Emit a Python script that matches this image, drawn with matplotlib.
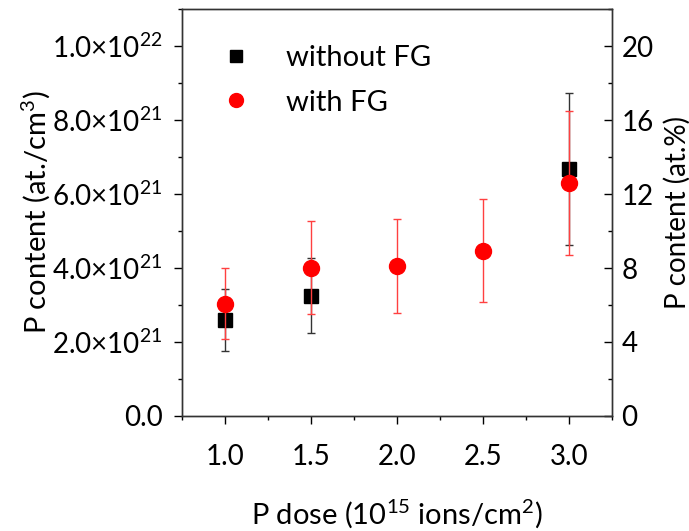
"""P content vs P dose, with and without FG."""
import numpy as np
import matplotlib
matplotlib.use('Agg')
import matplotlib.pyplot as plt
from matplotlib.lines import Line2D
from matplotlib.ticker import MultipleLocator, FuncFormatter

plt.rcParams['font.family'] = ['Lato', 'DejaVu Sans']
plt.rcParams['mathtext.default'] = 'regular'
plt.rcParams['mathtext.fontset'] = 'custom'
plt.rcParams['mathtext.rm'] = 'Lato'

# data (at./cm3)
dose_wo = [1.0, 1.5, 3.0]
p_wo = [2.6e21, 3.25e21, 6.67e21]
err_wo = [0.83e21, 1.02e21, 2.05e21]

dose_w = [1.0, 1.5, 2.0, 2.5, 3.0]
p_w = [3.04e21, 4.01e21, 4.06e21, 4.47e21, 6.29e21]
err_w = [0.97e21, 1.25e21, 1.27e21, 1.39e21, 1.95e21]

fig = plt.figure(figsize=(6.89, 5.31), dpi=100)
ax = fig.add_axes([0.264, 0.2166, 0.624, 0.7664])

ax.errorbar(dose_wo, p_wo, yerr=err_wo, fmt='s', color='black', ms=10.5,
            ecolor='#333333', elinewidth=1, capsize=3, capthick=1, zorder=3)
ax.errorbar(dose_w, p_w, yerr=err_w, fmt='o', color='red', ms=11.5,
            ecolor='#ff4040', elinewidth=1, capsize=3, capthick=1, zorder=4)

ax.set_xlim(0.75, 3.25)
ax.set_ylim(0, 1.1e22)
ax.xaxis.set_major_locator(MultipleLocator(0.5))
ax.xaxis.set_minor_locator(MultipleLocator(0.25))
ax.yaxis.set_major_locator(MultipleLocator(2e21))
ax.yaxis.set_minor_locator(MultipleLocator(1e21))


def sci(v, pos):
    if v <= 0:
        return '0.0'
    e = int(np.floor(np.log10(v) + 1e-9))
    m = v / 10**e
    return f'{m:.1f}×10$^{{{e}}}$'


ax.yaxis.set_major_formatter(FuncFormatter(sci))
ax.xaxis.set_major_formatter(FuncFormatter(lambda v, p: f'{v:.1f}'))
ax.tick_params(axis='both', which='major', direction='out', length=6,
               width=1, labelsize=20)
ax.tick_params(axis='both', which='minor', direction='out', length=3, width=1)
ax.tick_params(axis='y', right=False, pad=8)
ax.tick_params(axis='x', pad=14)
for s in ax.spines.values():
    s.set_linewidth(1)
    s.set_color('#333333')

ax.set_xlabel('P dose (10$^{15}$ ions/cm$^{2}$)', fontsize=21, labelpad=20)
ax.set_ylabel('P content (at./cm$^{3}$)', fontsize=21, labelpad=0)

ax2 = ax.twinx()
ax2.set_ylim(0, 22)
ax2.yaxis.set_major_locator(MultipleLocator(4))
ax2.yaxis.set_minor_locator(MultipleLocator(2))
ax2.tick_params(axis='y', which='major', direction='in', length=6, width=1,
                labelsize=20, pad=7)
ax2.tick_params(axis='y', which='minor', direction='in', length=3, width=1)
ax2.set_ylabel('P content (at.%)', fontsize=20, labelpad=7)
for s in ax2.spines.values():
    s.set_linewidth(1)
    s.set_color('#333333')

handles = [
    Line2D([], [], ls='none', marker='s', color='black', ms=9, label='without FG'),
    Line2D([], [], ls='none', marker='o', color='red', ms=10, label='with FG'),
]
ax.legend(handles=handles, loc='upper left', bbox_to_anchor=(0.025, 0.975),
          frameon=False, fontsize=21, handletextpad=1.1,
          labelspacing=0.62, handlelength=1.2)

plt.savefig('out.png', dpi=100)
